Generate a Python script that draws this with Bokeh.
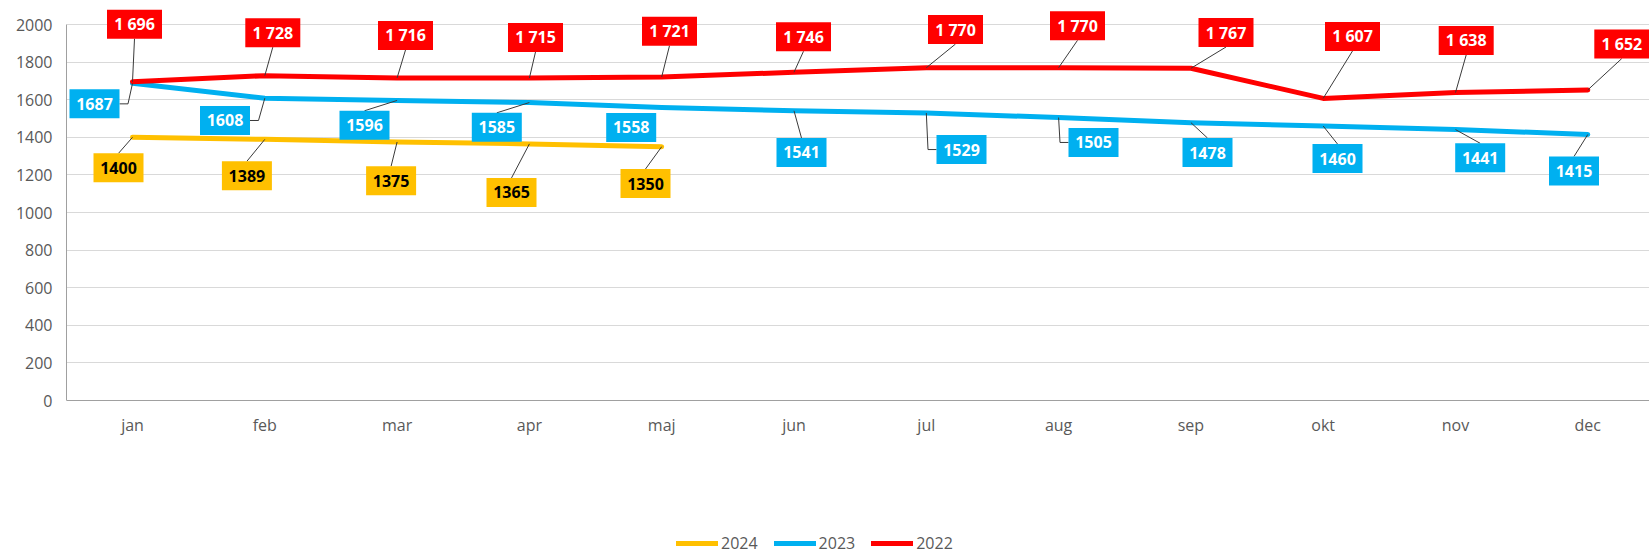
from bokeh.plotting import figure
from bokeh.models import Range1d, FixedTicker, Legend, LegendItem, ColumnDataSource
from bokeh.embed import file_html
from bokeh.resources import INLINE
from bokeh.core.properties import value

# ---------------- data ----------------
months = ["jan", "feb", "mar", "apr", "maj", "jun", "jul", "aug", "sep", "okt", "nov", "dec"]
y2024 = [1400, 1389, 1375, 1365, 1350]
y2023 = [1687, 1608, 1596, 1585, 1558, 1541, 1529, 1505, 1478, 1460, 1441, 1415]
y2022 = [1696, 1728, 1716, 1715, 1721, 1746, 1770, 1770, 1767, 1607, 1638, 1652]
y_ticks = [0, 200, 400, 600, 800, 1000, 1200, 1400, 1600, 1800, 2000]

# ---------------- label layout (screen px offsets of box centre from point, y down) ----------------
off2022 = [(2, -57.5), (8, -43), (8.4, -42.4), (6.1, -40.6), (7.8, -45.8), (9.5, -35.5),
           (29.2, -38.2), (18.9, -41.9), (35.1, -35.8), (29.3, -61.9), (10.7, -52.1), (34, -45.9)]
lead2022 = ["bottom"] * 12
off2023 = [(-38, 20.5), (-39.8, 22.3), (-32.6, 24.8), (-32.6, 24.8), (-30.5, 19.9), (7.5, 41.7),
           (35.2, 36.5), (34.9, 24.9), (16.6, 29.9), (14.3, 32.5), (24.7, 28.2), (-13.8, 36.5)]
lead2023 = ["right", "right", "top", "top", "none", "top", "left", "left", "top", "top", "top", "top"]
off2024 = [(-14, 30.5), (-17.9, 36.4), (-6, 38.7), (-17.9, 48.6), (-16.2, 36.8)]
lead2024 = ["top"] * 5

C24, C23, C22 = "#FFC000", "#00B0F0", "#FF0000"
FONT = "Open Sans"

# ---------------- geometry ----------------
LEFT = 66
FRAME_W, FRAME_H = 1649 - LEFT, 555
SX = 132.3          # px per category
SY = 0.188          # px per value unit
ZERO_PX = 400       # page y of value 0
x_start = -(132 - LEFT) / SX
x_end = x_start + FRAME_W / SX
y_top = ZERO_PX / SY
y_bottom = -(FRAME_H - ZERO_PX) / SY

p = figure(frame_width=FRAME_W, frame_height=FRAME_H,
           min_border_left=LEFT, min_border_right=0, min_border_top=0, min_border_bottom=0,
           x_range=Range1d(x_start, x_end), y_range=Range1d(y_bottom, y_top),
           output_backend="svg", toolbar_location=None, tools="")
p.outline_line_color = None
p.background_fill_color = "white"

# axes
p.xaxis.ticker = FixedTicker(ticks=list(range(len(months))))
p.xaxis.major_label_overrides = {i: m for i, m in enumerate(months)}
p.xaxis.fixed_location = 0
p.yaxis.ticker = FixedTicker(ticks=y_ticks)
p.yaxis.bounds = (0, 2000)
for ax in (p.xaxis[0], p.yaxis[0]):
    ax.axis_line_color = "#A0A0A0"
    ax.major_tick_line_color = None
    ax.minor_tick_line_color = None
    ax.major_tick_out = 0
    ax.major_tick_in = 0
    ax.major_label_text_font = FONT
    ax.major_label_text_font_size = "16px"
    ax.major_label_text_color = "#595959"
p.yaxis.major_label_standoff = 14
p.xaxis.major_label_standoff = 13
p.xgrid.grid_line_color = None
p.ygrid.ticker = FixedTicker(ticks=y_ticks)
p.ygrid.grid_line_color = "#D9D9D9"

# series lines
LW = 5
r24 = p.line(list(range(len(y2024))), y2024, line_color=C24, line_width=LW, line_join="round", line_cap="round")
r23 = p.line(list(range(len(y2023))), y2023, line_color=C23, line_width=LW, line_join="round", line_cap="round")
r22 = p.line(list(range(len(y2022))), y2022, line_color=C22, line_width=LW, line_join="round", line_cap="round")

# data labels with leader lines
bx, by, bw, bh, bfill, btext, bcol = [], [], [], [], [], [], []
lxs, lys = [], []
BOX_H = 29
STUB = 8.5


def dpt(i, v, dx, dy):
    return i + dx / SX, v - dy / SY


def add_labels(vals, offs, leads, fill, tcol, spaced):
    for i, (v, (dx, dy), mode) in enumerate(zip(vals, offs, leads)):
        txt = f"{v:,}".replace(",", " ") if spaced else str(v)
        w = 55 if spaced else 50
        cx, cy = dpt(i, v, dx, dy)
        bx.append(cx); by.append(cy); bw.append(w); bh.append(BOX_H)
        bfill.append(fill); btext.append(txt); bcol.append(tcol)
        hw, hh = w / 2, BOX_H / 2
        pts = None
        if mode == "bottom":
            pts = [(dx, dy + hh), (0, 0)]
        elif mode == "top":
            pts = [(dx, dy - hh), (0, 0)]
        elif mode == "right":
            pts = [(dx + hw, dy), (dx + hw + STUB, dy), (0, 0)]
        elif mode == "left":
            pts = [(dx - hw, dy), (dx - hw - STUB, dy), (0, 0)]
        if pts:
            xy = [dpt(i, v, a, b) for a, b in pts]
            lxs.append([q[0] for q in xy]); lys.append([q[1] for q in xy])


add_labels(y2024, off2024, lead2024, C24, "#000000", False)
add_labels(y2023, off2023, lead2023, C23, "#FFFFFF", False)
add_labels(y2022, off2022, lead2022, C22, "#FFFFFF", True)

p.multi_line(lxs, lys, line_color="#3A3A3A", line_width=1)

src = ColumnDataSource(dict(x=bx, y=by, w=bw, h=bh, fill=bfill, text=btext, tc=bcol))
p.rect(x="x", y="y", width="w", height="h", width_units="screen", height_units="screen",
       fill_color="fill", line_color=None, source=src)
p.text(x="x", y="y", text="text", text_color="tc", text_align="center", text_baseline="middle",
       text_font=value(FONT), text_font_style="bold", text_font_size="16px", source=src)

legend = Legend(items=[LegendItem(label="2024", renderers=[r24]),
                       LegendItem(label="2023", renderers=[r23]),
                       LegendItem(label="2022", renderers=[r22])],
                orientation="horizontal", location=(676 - LEFT, 1), padding=0, margin=0, spacing=16,
                glyph_width=42, glyph_height=12, label_height=12, label_standoff=3,
                border_line_color=None, background_fill_alpha=0,
                label_text_font=FONT, label_text_font_size="16px", label_text_color="#595959")
p.add_layout(legend, "center")

open("out.html", "w").write(file_html(p, INLINE))
